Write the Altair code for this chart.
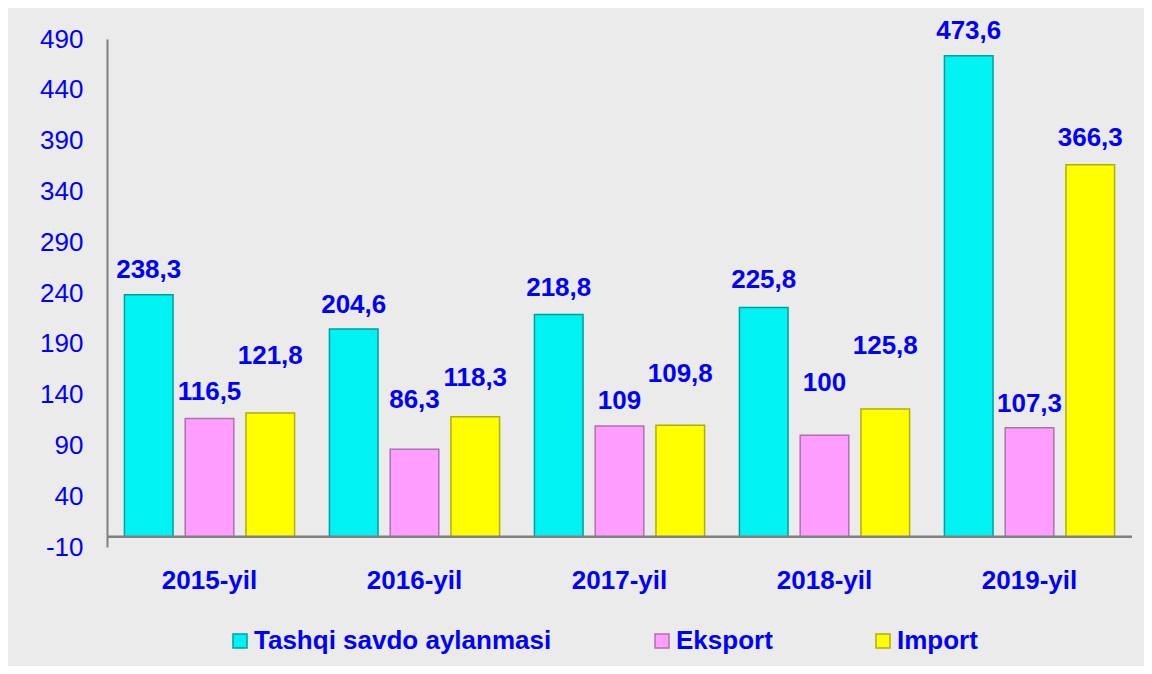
import altair as alt
import pandas as pd

FONT = "Liberation Sans"
BLUE = "#0000FF"

years = ["2015-yil", "2016-yil", "2017-yil", "2018-yil", "2019-yil"]
series = ["Tashqi savdo aylanmasi", "Eksport", "Import"]
tashqi = [238.3, 204.6, 218.8, 225.8, 473.6]
eksport = [116.5, 86.3, 109, 100, 107.3]
importv = [121.8, 118.3, 109.8, 125.8, 366.3]
y_ticks = [-10, 40, 90, 140, 190, 240, 290, 340, 390, 440, 490]

# styling: how far (px) each value label sits above its bar, as placed in the original
label_lift_tashqi = [17, 16, 19, 19, 17]
label_lift_eksport = [18, 41, 17, 44, 16]
label_lift_import = [49, 31, 43, 55, 19]

PLOT_H = 508
Y_DOMAIN = [-10, 490]
PX_PER_UNIT = PLOT_H / (Y_DOMAIN[1] - Y_DOMAIN[0])

fills = ["#00F2F2", "#FF9EFF", "#FFFF00"]
strokes = ["#00A0A0", "#B070B0", "#B0B000"]

rows = []
for name, vals, lifts in zip(series, [tashqi, eksport, importv],
                             [label_lift_tashqi, label_lift_eksport, label_lift_import]):
    for yr, v, lift in zip(years, vals, lifts):
        rows.append({"year": yr, "series": name, "value": v,
                     "label": f"{v:g}".replace(".", ","), "lift": lift})
df = pd.DataFrame(rows)

legend = alt.Legend(
    title=None, orient="none", legendX=120, legendY=589, direction="horizontal",
    columnPadding=97, symbolType="square", symbolSize=196, symbolStrokeWidth=1.5,
    labelFont=FONT, labelFontSize=26, labelFontWeight="bold", labelColor=BLUE,
    labelOffset=1, labelLimit=500, padding=0,
)

x = alt.X("year:N", sort=years,
          scale=alt.Scale(paddingInner=0.17, paddingOuter=0.085),
          axis=alt.Axis(title=None, labelAngle=0, domain=False, ticks=False,
                        labelPadding=20, labelFont=FONT, labelFontSize=26,
                        labelFontWeight="bold", labelColor=BLUE))
xo = alt.XOffset("series:N", sort=series,
                 scale=alt.Scale(paddingInner=0.2, paddingOuter=0))
yscale = alt.Scale(domain=Y_DOMAIN, nice=False, zero=False)
y = alt.Y("value:Q", stack=None, scale=yscale,
          axis=alt.Axis(title=None, values=y_ticks, grid=False, ticks=False,
                        domainColor="#808080", domainWidth=2, labelPadding=24,
                        labelExpr="'' + datum.value",
                        labelFont=FONT, labelFontSize=26, labelColor=BLUE))

bars = alt.Chart(df).mark_bar(strokeWidth=1.5).encode(
    x=x, xOffset=xo, y=y, y2=alt.datum(0),
    color=alt.Color("series:N", sort=series,
                    scale=alt.Scale(domain=series, range=fills), legend=legend),
    stroke=alt.Stroke("series:N", sort=series,
                      scale=alt.Scale(domain=series, range=strokes), legend=legend),
)

labels = alt.Chart(df).transform_calculate(
    label_y=f"datum.value + datum.lift / {PX_PER_UNIT}"
).mark_text(
    baseline="alphabetic", align="center", font=FONT, fontSize=26,
    fontWeight="bold", color=BLUE,
).encode(x=x, xOffset=xo,
         y=alt.Y("label_y:Q", stack=None, scale=yscale),
         text="label:N")

zero_line = alt.Chart(pd.DataFrame({"zero": [0]})).mark_rule(
    color="#808080", strokeWidth=2.5).encode(y=alt.Y("zero:Q"))

chart = alt.layer(bars, zero_line, labels).properties(
    width=1025, height=PLOT_H,
    autosize=alt.AutoSizeParams(type="none"),
    padding={"left": 99, "top": 31, "right": 12, "bottom": 119},
    background="#EBEBEB",
).configure_view(stroke=None)

chart.save("out.html", embed_options={"renderer": "svg", "actions": False})
